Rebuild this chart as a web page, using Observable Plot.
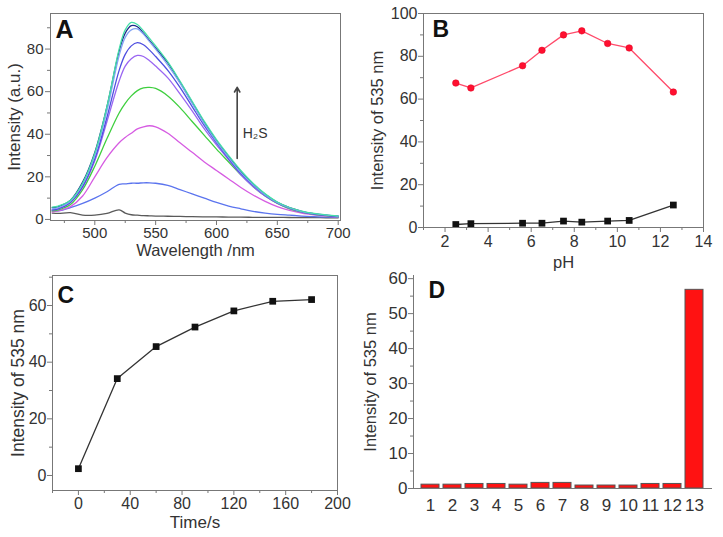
<!DOCTYPE html>
<html><head><meta charset="utf-8">
<script src="https://cdn.jsdelivr.net/npm/d3@7"></script>
<script src="https://cdn.jsdelivr.net/npm/@observablehq/plot@0.6"></script>
<style>
body{margin:0;background:#fff;}
#fig{position:relative;width:723px;height:537px;background:#fff;overflow:hidden;}
</style></head><body><div id="fig"></div>
<script>
// ---------- Panel A: emission spectra ----------
const wavelength = [465,470,480,490,500,510,520,525,530,535,540,545,550,560,570,580,590,600,610,620,630,640,650,660,670,680,690,700];
const specGray    = [3,2.8,3.2,2,2,2.8,4.5,3,2.2,2,1.8,1.7,1.6,1.5,1.4,1.3,1.2,1.2,1.1,1.1,1,1,1,0.9,0.9,0.9,0.8,0.8];
const specBlue17  = [4,4,5.5,7.5,10,13,16.5,16.7,17,17,17.2,17.2,17,16,14,12,10,8,6.3,5,3.8,3,2.4,2,1.6,1.3,1.1,1];
const specMagenta = [3.5,4,6,11,20,29,36,38.5,40.5,42.5,43.5,44,43.5,40.5,36,31.5,27,23,19,15,11.5,8.5,6,4.2,3,2.2,1.6,1.2];
const specGreen   = [4,4.5,7,14,25,38,50,54.5,58,60.5,61.8,62,61.5,58,52.5,46,39.5,33,27,21,15.5,11,7.5,5,3.4,2.4,1.8,1.3];
const specViolet  = [4.5,5,8,15,27.5,46,65,72,75.5,77,76.5,74.5,72,66.5,59,51,42.5,35,28,21,15.5,11,7.6,5.2,3.5,2.5,1.9,1.4];
const specBlue83  = [4.5,5,8,15.5,28.5,48,70,77.5,81.5,83,82,79.5,76.5,70,62,53,44,36,28.5,21.5,16,11.3,7.8,5.3,3.6,2.6,1.9,1.4];
const specNavy    = [5.5,6,9,17.5,31.5,53,79,87.5,91,90.5,87.5,84,80.5,73.5,64.5,55,45.5,37,29.5,22.5,16.5,11.8,8,5.5,3.8,2.7,2,1.5];
const specLtBlue  = [5,5.5,8.5,16.5,30,51,77,85.5,89,89.5,87,83.5,80,72.5,64,54.5,45,36.5,29,22,16.3,11.5,7.9,5.4,3.7,2.7,2,1.5];
const specCyan    = [5.8,6.3,9,17,31,53,80,89,92.5,91.5,88.5,85,81.5,74,65,55.5,46,37.5,30,23,17,12,8.2,5.6,3.9,2.8,2.1,1.6];
const specNames = ["gray","blue17","magenta","green","violet","blue83","navy","ltblue","cyan"];
const specSeries = [specGray,specBlue17,specMagenta,specGreen,specViolet,specBlue83,specNavy,specLtBlue,specCyan];
const specColors = ["#5a5a5a","#5b74ee","#d65ce2","#3fcf3f","#9a66f2","#4f4fe0","#1c2a8a","#82a4f4","#45e0a8"];
const aXTicks = [500,550,600,650,700];
const aYTicks = [0,20,40,60,80];

// ---------- Panel B: pH ----------
const pH = [2.5,3.2,5.6,6.5,7.5,8.35,9.55,10.55,12.6];
const pHWithH2S = [67.5,65.2,75.6,82.8,90,91.9,86,83.9,63.3];
const pHProbe = [1.4,1.8,2.0,2.0,3.0,2.5,3.0,3.3,10.5];
const bXTicks = [2,4,6,8,10,12,14];
const bYTicks = [0,20,40,60,80,100];

// ---------- Panel C: time ----------
const time = [0,30,60,90,120,150,180];
const timeIntensity = [2.4,34.2,45.5,52.4,58.1,61.5,62.1];
const cXTicks = [0,40,80,120,160,200];
const cYTicks = [0,20,40,60];

// ---------- Panel D: selectivity ----------
const analyte = [1,2,3,4,5,6,7,8,9,10,11,12,13];
const analyteIntensity = [1.1,1.1,1.3,1.3,1.1,1.6,1.6,0.85,0.85,0.85,1.3,1.3,56.8];
const dYTicks = [0,10,20,30,40,50,60];

const fig = document.getElementById("fig");
function place(el, left, top){
  el.style.position = "absolute"; el.style.left = left + "px"; el.style.top = top + "px";
  fig.append(el);
}
const FONT = "'Liberation Sans', Arial, 'DejaVu Sans', sans-serif";
const ink = "#333";
const axisInk = "#777";
function minor(ticks, lo, hi){ const out=[]; for(let i=0;i<ticks.length-1;i++){const m=(ticks[i]+ticks[i+1])/2; if(m>=lo&&m<=hi) out.push(m);} const s=ticks[1]-ticks[0]; const b=ticks[0]-s/2; if(b>=lo) out.unshift(b); const e=ticks[ticks.length-1]+s/2; if(e<=hi) out.push(e); return out; }
const yLab = (t, dx, fs) => Plot.text([t], {frameAnchor: "left", rotate: -90, dx, fontSize: fs, fill: ink, textAnchor: "middle", lineAnchor: "middle"});
const xLab = (t, dy, fs) => Plot.text([t], {frameAnchor: "bottom", dy, fontSize: fs, fill: ink, textAnchor: "middle", lineAnchor: "middle"});

// ===== Panel A =====
const specTable = [];
specSeries.forEach((arr, si) => arr.forEach((v, i) => specTable.push({s: specNames[si], wl: wavelength[i], v})));
const pA = Plot.plot({
  width: 360, height: 270, marginLeft: 50, marginRight: 20, marginTop: 13, marginBottom: 50,
  style: {fontFamily: FONT, fontSize: "15px", color: ink, background: "transparent", overflow: "visible"},
  x: {domain: [463.6, 701.9], axis: null},
  y: {domain: [-0.5, 96.7], axis: null},
  color: {domain: specNames, range: specColors},
  marks: [
    Plot.line(specTable, {x: "wl", y: "v", z: "s", stroke: "s", strokeWidth: 1.3, curve: "catmull-rom"}),
    Plot.arrow([{x1: 617, y1: 28.6, x2: 617, y2: 62}], {x1: "x1", y1: "y1", x2: "x2", y2: "y2", stroke: "#444", strokeWidth: 1.6, headLength: 5}),
    Plot.text(["H₂S"], {x: 621.5, y: 40.5, textAnchor: "start", fontSize: 14, fill: ink}),
    Plot.frame({stroke: axisInk}),
    Plot.axisX({ticks: aXTicks, tickSize: 5, tickPadding: 2, label: null, stroke: axisInk}),
    Plot.axisX({ticks: minor(aXTicks, 463.6, 701.9), tickSize: 3, tickFormat: () => "", label: null, stroke: axisInk}),
    Plot.axisY({ticks: aYTicks, tickSize: 5, tickPadding: 2, label: null, stroke: axisInk}),
    Plot.axisY({ticks: minor(aYTicks, -0.5, 96.7), tickSize: 3, tickFormat: () => "", label: null, stroke: axisInk}),
    yLab("Intensity (a.u.)", -36, 17),
    xLab("Wavelength /nm", 30, 16.5),
    Plot.text(["A"], {frameAnchor: "top-left", dx: 5, dy: 7, textAnchor: "start", lineAnchor: "top", fontSize: 25, fontWeight: "bold", fill: "#111"})
  ]
});
place(pA, 0, 0);

// ===== Panel B =====
const pHTable = pH.map((p, i) => ({p, h: pHWithH2S[i], b: pHProbe[i]}));
const pB = Plot.plot({
  width: 363, height: 270, marginLeft: 63, marginRight: 20, marginTop: 13, marginBottom: 43,
  style: {fontFamily: FONT, fontSize: "16px", color: ink, background: "transparent", overflow: "visible"},
  x: {domain: [1, 14], axis: null},
  y: {domain: [0, 100], axis: null},
  marks: [
    Plot.line(pHTable, {x: "p", y: "h", stroke: "#ff4a6a", strokeWidth: 1.3}),
    Plot.dot(pHTable, {x: "p", y: "h", r: 3.3, fill: "#ff1030", stroke: "#e00020", strokeWidth: 0.5}),
    Plot.line(pHTable, {x: "p", y: "b", stroke: "#333", strokeWidth: 1.3}),
    Plot.dot(pHTable, {x: "p", y: "b", symbol: "square", r: 3.8, fill: "#111"}),
    Plot.frame({stroke: axisInk}),
    Plot.axisX({ticks: bXTicks, tickSize: 5, tickPadding: 3, label: null, stroke: axisInk}),
    Plot.axisX({ticks: minor(bXTicks, 1, 14), tickSize: 3, tickFormat: () => "", label: null, stroke: axisInk}),
    Plot.axisY({ticks: bYTicks, tickSize: 5, tickPadding: 1, label: null, stroke: axisInk}),
    Plot.axisY({ticks: minor(bYTicks, 0, 100), tickSize: 3, tickFormat: () => "", label: null, stroke: axisInk}),
    yLab("Intensity of 535 nm", -46, 16.5),
    xLab("pH", 35, 16.5),
    Plot.text(["B"], {frameAnchor: "top-left", dx: 9, dy: 7, textAnchor: "start", lineAnchor: "top", fontSize: 23, fontWeight: "bold", fill: "#111"})
  ]
});
place(pB, 360, 0);

// ===== Panel C =====
const timeTable = time.map((t, i) => ({t, v: timeIntensity[i]}));
const pC = Plot.plot({
  width: 360, height: 267, marginLeft: 52, marginRight: 23, marginTop: 5, marginBottom: 47,
  style: {fontFamily: FONT, fontSize: "16px", color: ink, background: "transparent", overflow: "visible"},
  x: {domain: [-20, 200], axis: null},
  y: {domain: [-5.3, 70.6], axis: null},
  marks: [
    Plot.line(timeTable, {x: "t", y: "v", stroke: "#333", strokeWidth: 1.3}),
    Plot.dot(timeTable, {x: "t", y: "v", symbol: "square", r: 3.8, fill: "#111"}),
    Plot.frame({stroke: axisInk}),
    Plot.axisX({ticks: cXTicks, tickSize: 5, tickPadding: 2, label: null, stroke: axisInk}),
    Plot.axisX({ticks: minor(cXTicks, -20, 200), tickSize: 3, tickFormat: () => "", label: null, stroke: axisInk}),
    Plot.axisY({ticks: cYTicks, tickSize: 5, tickPadding: 1, label: null, stroke: axisInk}),
    Plot.axisY({ticks: minor(cYTicks, -5.3, 70.6), tickSize: 3, tickFormat: () => "", label: null, stroke: axisInk}),
    yLab("Intensity of 535 nm", -34, 17.5),
    xLab("Time/s", 32, 17),
    Plot.text(["C"], {frameAnchor: "top-left", dx: 5, dy: 11.5, textAnchor: "start", lineAnchor: "top", fontSize: 23, fontWeight: "bold", fill: "#111"})
  ]
});
place(pC, 0, 270);

// ===== Panel D =====
const selTable = analyte.map((a, i) => ({a, v: analyteIntensity[i]}));
const pD = Plot.plot({
  width: 363, height: 267, marginLeft: 53, marginRight: 11, marginTop: 5, marginBottom: 49,
  style: {fontFamily: FONT, fontSize: "17px", color: ink, background: "transparent", overflow: "visible"},
  x: {type: "band", domain: analyte, paddingInner: 0.17, paddingOuter: 0.14, axis: null},
  y: {domain: [0, 60.9], axis: null},
  marks: [
    Plot.barY(selTable, {x: "a", y: "v", fill: "#ff1212", stroke: "#555", strokeWidth: 1}),
    Plot.ruleY([0], {stroke: axisInk}),
    Plot.frame({anchor: "left", stroke: axisInk}),
    Plot.axisX({tickSize: 0, tickPadding: 10, label: null}),
    Plot.axisY({ticks: dYTicks, tickSize: 5, tickPadding: 1, label: null, stroke: axisInk}),
    Plot.axisY({ticks: minor(dYTicks, 0, 60.9), tickSize: 3, tickFormat: () => "", label: null, stroke: axisInk}),
    yLab("Intensity of 535 nm", -43, 16.5),
    Plot.text(["D"], {frameAnchor: "top-left", dx: 15, dy: 6.5, textAnchor: "start", lineAnchor: "top", fontSize: 23, fontWeight: "bold", fill: "#111"})
  ]
});
place(pD, 360, 270);
</script>
</body></html>
